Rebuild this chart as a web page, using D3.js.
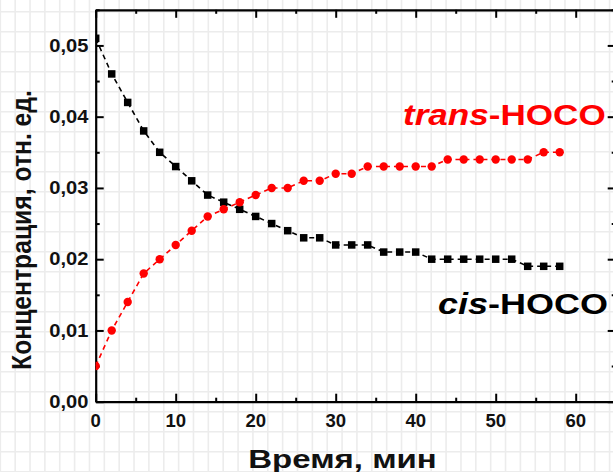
<!DOCTYPE html>
<html>
<head>
<meta charset="utf-8">
<script src="https://cdn.jsdelivr.net/npm/d3@7"></script>
<style>
  html, body { margin: 0; padding: 0; background: #ffffff; }
  svg { display: block; }
  text { font-family: "Liberation Sans", Arial, sans-serif; }
</style>
</head>
<body>
<svg id="chart" width="613" height="472"></svg>
<script>
// ---- data ----
const timeMin = [0,2,4,6,8,10,12,14,16,18,20,22,24,26,28,30,32,34,36,38,40,42,44,46,48,50,52,54,56,58];
const cisHOCO = [0.051,0.046,0.042,0.038,0.035,0.033,0.031,0.029,0.028,0.027,0.026,0.025,0.024,0.023,0.023,0.022,0.022,0.022,0.021,0.021,0.021,0.020,0.020,0.020,0.020,0.020,0.020,0.019,0.019,0.019];
const transHOCO = [0.005,0.010,0.014,0.018,0.020,0.022,0.024,0.026,0.027,0.028,0.029,0.030,0.030,0.031,0.031,0.032,0.032,0.033,0.033,0.033,0.033,0.033,0.034,0.034,0.034,0.034,0.034,0.034,0.035,0.035];
const xTicks = [0,10,20,30,40,50,60];
const xMinorTicks = [5,15,25,35,45,55,65];
const yTicks = [0,0.01,0.02,0.03,0.04,0.05];
const yMinorTicks = [0.005,0.015,0.025,0.035,0.045,0.055];
const xTitle = "Время, мин";
const yTitle = "Концентрация, отн. ед.";

const W = 613, H = 472;
const svg = d3.select("#chart");

// background graph-paper grid
const bg = svg.append("g");
for (let gx = 0.3; gx < W; gx += 14.86) {
  bg.append("line").attr("x1", gx).attr("x2", gx).attr("y1", 0).attr("y2", H)
    .attr("stroke", "#ececec").attr("stroke-width", 1.6);
}
for (let gy = 11.7; gy < H; gy += 20) {
  bg.append("line").attr("x1", 0).attr("x2", W).attr("y1", gy).attr("y2", gy)
    .attr("stroke", "#ececec").attr("stroke-width", 1.6);
}

const x = d3.scaleLinear().domain([0, 65]).range([95.7, 615.7]);
const y = d3.scaleLinear().domain([0, 0.055]).range([401.7, 9.8]);

svg.append("clipPath").attr("id", "plotclip").append("rect")
  .attr("x", x(0)).attr("y", y(0.055)).attr("width", x(65) - x(0)).attr("height", y(0) - y(0.055));

const fmt = v => d3.format(".2f")(v).replace(".", ",");

function styleAxis(g) {
  g.select(".domain").attr("stroke", "#000").attr("stroke-width", 2.2);
  g.selectAll(".tick line").attr("stroke", "#000").attr("stroke-width", 2);
  g.selectAll(".tick text").remove();
}
function minor(g) {
  g.select(".domain").remove();
  g.selectAll("line").attr("stroke", "#000").attr("stroke-width", 2);
  g.selectAll("text").remove();
}
// bottom
styleAxis(svg.append("g").attr("transform", `translate(0,${y(0)})`)
  .call(d3.axisBottom(x).tickValues(xTicks).tickSizeInner(-8).tickSizeOuter(0)));
svg.append("g").attr("transform", `translate(0,${y(0)})`)
  .call(d3.axisBottom(x).tickValues(xMinorTicks).tickSize(-4)).call(minor);
// top
styleAxis(svg.append("g").attr("transform", `translate(0,${y(0.055)})`)
  .call(d3.axisTop(x).tickValues(xTicks).tickSizeInner(-8).tickSizeOuter(0)));
svg.append("g").attr("transform", `translate(0,${y(0.055)})`)
  .call(d3.axisTop(x).tickValues(xMinorTicks).tickSize(-4)).call(minor);
// left
styleAxis(svg.append("g").attr("transform", `translate(${x(0)},0)`)
  .call(d3.axisLeft(y).tickValues(yTicks).tickSizeInner(-8).tickSizeOuter(0)));
svg.append("g").attr("transform", `translate(${x(0)},0)`)
  .call(d3.axisLeft(y).tickValues(yMinorTicks).tickSize(-4)).call(minor);
// right
styleAxis(svg.append("g").attr("transform", `translate(${x(65)},0)`)
  .call(d3.axisRight(y).tickValues(yTicks).tickSizeInner(-8).tickSizeOuter(0)));
svg.append("g").attr("transform", `translate(${x(65)},0)`)
  .call(d3.axisRight(y).tickValues(yMinorTicks).tickSize(-4)).call(minor);

// tick labels (slightly widened glyphs like the reference)
svg.append("g").selectAll("text").data(xTicks).enter().append("text")
  .attr("transform", d => `translate(${x(d)},${y(0) + 25.5}) scale(1.06,1)`)
  .attr("text-anchor", "middle").attr("fill", "#111")
  .style("font-size", "17.5px").style("font-weight", "bold").text(d3.format("d"));
svg.append("g").selectAll("text").data(yTicks).enter().append("text")
  .attr("transform", d => `translate(88.5,${y(d) + 6.2}) scale(1.15,1)`)
  .attr("text-anchor", "end").attr("fill", "#111")
  .style("font-size", "17.5px").style("font-weight", "bold").text(fmt);

// series
const plot = svg.append("g").attr("clip-path", "url(#plotclip)");
const line = d3.line().x(d => x(d[0])).y(d => y(d[1]));
const cisPts = timeMin.map((t, i) => [t, cisHOCO[i]]);
const transPts = timeMin.map((t, i) => [t, transHOCO[i]]);

plot.append("path").datum(cisPts).attr("d", line).attr("fill", "none")
  .attr("stroke", "#000").attr("stroke-width", 1.6).attr("stroke-dasharray", "5,4");
plot.append("path").datum(transPts).attr("d", line).attr("fill", "none")
  .attr("stroke", "#ff0000").attr("stroke-width", 1.6).attr("stroke-dasharray", "5,4");

const sq = 7.5;
plot.selectAll("rect.cis").data(cisPts).enter().append("rect").attr("class", "cis")
  .attr("x", d => x(d[0]) - sq / 2).attr("y", d => y(d[1]) - sq / 2)
  .attr("width", sq).attr("height", sq).attr("fill", "#000");
plot.selectAll("circle.trans").data(transPts).enter().append("circle").attr("class", "trans")
  .attr("cx", d => x(d[0])).attr("cy", d => y(d[1])).attr("r", 4.2).attr("fill", "#ff0000");

// series labels
const tl = svg.append("text").attr("transform", "translate(403,125) scale(1.17,1)").attr("fill", "#ff0000")
  .style("font-size", "30px").style("font-weight", "bold");
tl.append("tspan").style("font-style", "italic").text("trans");
tl.append("tspan").text("-HOCO");
const cl = svg.append("text").attr("transform", "translate(438,314) scale(1.2,1)").attr("fill", "#000")
  .style("font-size", "30px").style("font-weight", "bold");
cl.append("tspan").style("font-style", "italic").text("cis");
cl.append("tspan").text("-HOCO");

// axis titles
svg.append("text").attr("transform", "translate(342.5,468) scale(1.27,1)").attr("text-anchor", "middle")
  .attr("fill", "#111").style("font-size", "26px").style("font-weight", "bold").text(xTitle);
svg.append("text").attr("transform", "translate(31,230) scale(1.15,1) rotate(-90)").attr("text-anchor", "middle")
  .attr("fill", "#111").style("font-size", "24.7px").style("font-weight", "bold").text(yTitle);
</script>
</body>
</html>
